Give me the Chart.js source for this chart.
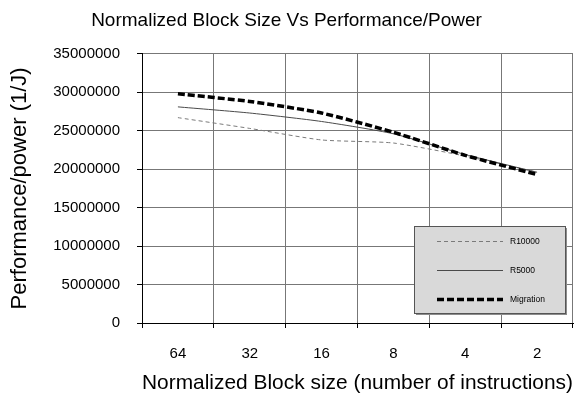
<!DOCTYPE html>
<html>
<head>
<meta charset="utf-8">
<script src="https://cdn.jsdelivr.net/npm/chart.js@4.4.1/dist/chart.umd.min.js"></script>
<style>
  html, body { margin: 0; padding: 0; background: #fff; }
  canvas { display: block; }
</style>
</head>
<body>
<canvas id="c" width="582" height="400"></canvas>
<script>
// ---- data ----
const categories = ["64", "32", "16", "8", "4", "2"];
const seriesNames = ["R10000", "R5000", "Migration"];
const r10000 = [26700000, 25300000, 23800000, 23400000, 21700000, 19600000];
const r5000 = [28100000, 27300000, 26200000, 24600000, 21900000, 19600000];
const migration = [29800000, 28800000, 27300000, 24800000, 21800000, 19300000];
const yTicks = [0, 5000000, 10000000, 15000000, 20000000, 25000000, 30000000, 35000000];

const FONT = "'Liberation Sans', Arial, sans-serif";

const insideLegend = {
  id: 'insideLegend',
  afterDraw(chart) {
    const ctx = chart.ctx;
    const x = 414, y = 226, w = 151, h = 87;
    ctx.save();
    // shadow
    ctx.fillStyle = '#8c8c8c';
    ctx.fillRect(x + 2, y + 2, w, h);
    ctx.fillStyle = '#d9d9d9';
    ctx.fillRect(x, y, w, h);
    ctx.strokeStyle = '#555';
    ctx.lineWidth = 1;
    ctx.strokeRect(x + 0.5, y + 0.5, w, h);
    const rows = [241, 270, 299];
    chart.data.datasets.forEach((ds, i) => {
      const ry = rows[i] + 0.5;
      ctx.beginPath();
      ctx.strokeStyle = ds.borderColor;
      ctx.lineWidth = ds.borderWidth;
      ctx.setLineDash(ds.borderDash || []);
      ctx.moveTo(437, ry);
      ctx.lineTo(503, ry);
      ctx.stroke();
      ctx.setLineDash([]);
      ctx.fillStyle = '#000';
      ctx.font = "8.5px " + FONT;
      ctx.textBaseline = 'middle';
      ctx.textAlign = 'left';
      ctx.fillText(ds.label, 510, ry);
    });
    ctx.restore();
  }
};

new Chart(document.getElementById('c'), {
  type: 'line',
  data: {
    labels: categories,
    datasets: [
      { label: seriesNames[0], data: r10000, borderColor: '#7a7a7a', borderWidth: 1, borderDash: [4, 3], order: 2 },
      { label: seriesNames[1], data: r5000, borderColor: '#4a4a4a', borderWidth: 1, order: 1 },
      { label: seriesNames[2], data: migration, borderColor: '#000000', borderWidth: 3.5, borderDash: [7, 3], order: 0 }
    ]
  },
  options: {
    responsive: false,
    animation: false,
    devicePixelRatio: 1,
    layout: { padding: { left: 0, right: 9, top: 0, bottom: 0 } },
    elements: {
      point: { radius: 0 },
      line: { tension: 0.2, fill: false, borderCapStyle: 'butt' }
    },
    plugins: {
      legend: { display: false },
      tooltip: { enabled: false },
      title: {
        display: true,
        text: 'Normalized Block Size Vs Performance/Power',
        color: '#000',
        font: { family: FONT, size: 19, weight: 'normal' },
        padding: { top: 9, bottom: 22 }
      }
    },
    scales: {
      x: {
        type: 'category',
        offset: true,
        grid: { offset: true, color: '#777', tickColor: '#000', tickLength: 5, drawOnChartArea: true },
        border: { color: '#000', width: 1 },
        ticks: { color: '#000', font: { family: FONT, size: 15 }, padding: 17, maxRotation: 0, autoSkip: false },
        title: {
          display: true,
          text: 'Normalized Block size (number of instructions)',
          color: '#000',
          font: { family: FONT, size: 21 },
          padding: { top: 0, bottom: 4 }
        },
        afterFit(scale) { scale.height = 77; }
      },
      y: {
        min: 0,
        max: 35000000,
        afterBuildTicks(scale) { scale.ticks = yTicks.map(v => ({ value: v })); },
        grid: { color: '#777', tickColor: '#000', tickLength: 5 },
        border: { color: '#000', width: 1 },
        ticks: { color: '#000', font: { family: FONT, size: 15 }, padding: 17, callback: v => String(v) },
        title: {
          display: true,
          text: 'Performance/power (1/J)',
          color: '#000',
          font: { family: FONT, size: 22 },
          padding: { top: 7, bottom: 0 }
        },
        afterFit(scale) { scale.width = 142; }
      }
    }
  },
  plugins: [insideLegend]
});
</script>
</body>
</html>
